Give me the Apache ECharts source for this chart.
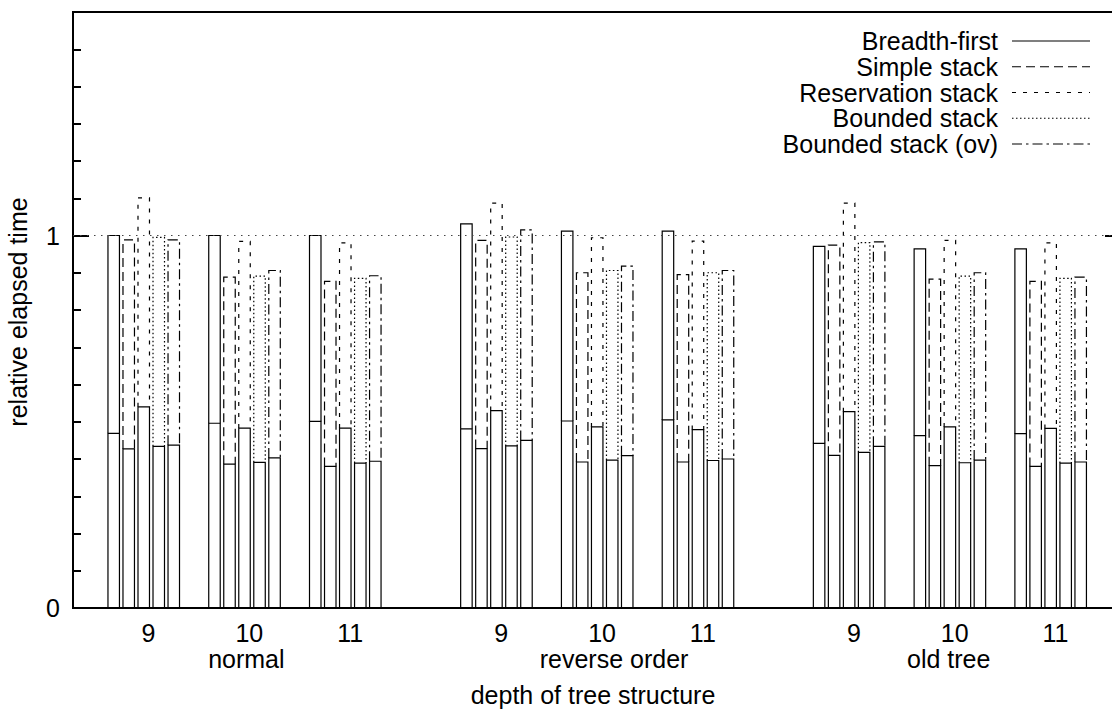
<!DOCTYPE html>
<html><head><meta charset="utf-8">
<script src="https://cdn.jsdelivr.net/npm/echarts@6/dist/echarts.min.js"></script>
<style>html,body{margin:0;padding:0;background:#fff}#c{width:1112px;height:710px}</style>
</head><body><div id="c"></div>
<script>
// ---- data ----
const seriesNames = ['Breadth-first', 'Simple stack', 'Reservation stack', 'Bounded stack', 'Bounded stack (ov)'];
const depths = ['9', '10', '11', '9', '10', '11', '9', '10', '11'];
const groups = ['normal', 'reverse order', 'old tree'];
const yTickLabels = ['0', '1'];
const refLevel = 1;

const bfLower      = [0.469, 0.496, 0.501, 0.481, 0.502, 0.505, 0.442, 0.463, 0.468];
const bfTotal      = [1.000, 1.000, 1.000, 1.031, 1.012, 1.012, 0.971, 0.964, 0.964];
const simpleLower  = [0.427, 0.386, 0.380, 0.428, 0.392, 0.392, 0.410, 0.382, 0.380];
const simpleTotal  = [0.988, 0.888, 0.877, 0.987, 0.900, 0.895, 0.974, 0.883, 0.877];
const reserveLower = [0.540, 0.483, 0.483, 0.530, 0.486, 0.479, 0.527, 0.486, 0.482];
const reserveTotal = [1.101, 0.984, 0.980, 1.087, 0.994, 0.985, 1.087, 0.987, 0.980];
const boundLower   = [0.434, 0.391, 0.389, 0.435, 0.397, 0.396, 0.418, 0.390, 0.389];
const boundTotal   = [0.995, 0.891, 0.885, 0.996, 0.906, 0.900, 0.981, 0.891, 0.885];
const ovLower      = [0.437, 0.403, 0.394, 0.450, 0.409, 0.400, 0.434, 0.397, 0.392];
const ovTotal      = [0.988, 0.906, 0.892, 1.015, 0.918, 0.906, 0.983, 0.900, 0.888];

const lowers = [bfLower, simpleLower, reserveLower, boundLower, ovLower];
const totals = [bfTotal, simpleTotal, reserveTotal, boundTotal, ovTotal];

// ---- styling / layout ----
const FONT = "'Liberation Sans', Arial, Helvetica, sans-serif";
const FS = 25;
const LEGEND_FS = 25;
const dashes = [null, [9, 5], [4, 7], [1.5, 2.5], [10, 4, 2.5, 4]];
const BAR_OFFSET = -0.403, BAR_PITCH = 0.149, BAR_WIDTH = 0.114;
const LW = 1.2;
const groupLabelShift = [-3, 12, -6];

function catPos(i) { return Math.floor(i / 3) * 3.5 + (i % 3); }

function renderBar(params, api) {
  const s = api.value(3);
  const x0 = api.value(0);
  const u = api.size([1, 0])[0];
  const base = api.coord([x0, 0]);
  const lo = api.coord([x0, api.value(1)]);
  const hi = api.coord([x0, api.value(2)]);
  const left = base[0] + u * (BAR_OFFSET + BAR_PITCH * s);
  const w = u * BAR_WIDTH;
  const upperStyle = { fill: 'none', stroke: '#000', lineWidth: LW };
  if (dashes[s]) upperStyle.lineDash = dashes[s];
  return {
    type: 'group',
    children: [
      { type: 'rect', shape: { x: left, y: lo[1], width: w, height: base[1] - lo[1] },
        style: { fill: 'none', stroke: '#000', lineWidth: LW } },
      { type: 'polyline', shape: { points: [[left, lo[1]], [left, hi[1]], [left + w, hi[1]], [left + w, lo[1]]] },
        style: upperStyle }
    ]
  };
}

const barSeries = seriesNames.map((name, s) => {
  const ser = {
    type: 'custom', name: name, xAxisIndex: 0, yAxisIndex: 0,
    renderItem: renderBar, silent: true, animation: false,
    data: depths.map((d, i) => [catPos(i), lowers[s][i], totals[s][i], s])
  };
  if (s === 0) {
    ser.markLine = {
      silent: true, symbol: ['none', 'none'], animation: false,
      label: { show: false },
      lineStyle: { color: '#444', width: 1.2, type: [1.5, 5.5] },
      data: [{ yAxis: refLevel }]
    };
  }
  return ser;
});

const labelSeries = {
  type: 'custom', xAxisIndex: 0, yAxisIndex: 0, silent: true, animation: false, clip: false,
  data: depths.map((d, i) => [catPos(i), i]),
  renderItem: function (params, api) {
    const i = api.value(1);
    const p = api.coord([api.value(0), 0]);
    const children = [{
      type: 'text', x: p[0], y: p[1] + 25,
      style: { text: depths[i], align: 'center', verticalAlign: 'middle', fontSize: FS, fontFamily: FONT, fill: '#000' }
    }];
    if (i % 3 === 1) {
      const g = Math.floor(i / 3);
      children.push({
        type: 'text', x: p[0] + groupLabelShift[g], y: p[1] + 50.5,
        style: { text: groups[g], align: 'center', verticalAlign: 'middle', fontSize: FS, fontFamily: FONT, fill: '#000' }
      });
    }
    return { type: 'group', children: children };
  }
};

// legend built as graphic elements (text + line sample)
const legendEls = [];
seriesNames.forEach((name, s) => {
  const y = 41 + 25.75 * s;
  legendEls.push({ type: 'text', x: 998, y: y,
    style: { text: name, align: 'right', verticalAlign: 'middle', fontSize: LEGEND_FS, fontFamily: FONT, fill: '#000' } });
  const st = { stroke: '#000', lineWidth: LW };
  if (dashes[s]) st.lineDash = dashes[s];
  legendEls.push({ type: 'line', shape: { x1: 1012, y1: y, x2: 1090, y2: y }, style: st });
});

function yAx(interval, position, tickLen, withLabels) {
  return {
    type: 'value', min: 0, max: 1.6, interval: interval, position: position,
    axisLine: { show: false, onZero: false },
    axisTick: { show: true, inside: true, length: tickLen, lineStyle: { color: '#000', width: 2 } },
    axisLabel: withLabels ? {
      show: true, margin: 13, color: '#000', fontSize: FS, fontFamily: FONT,
      formatter: function (v) {
        if (Math.abs(v - 0) < 1e-6) return yTickLabels[0];
        if (Math.abs(v - 1) < 1e-6) return yTickLabels[1];
        return '';
      }
    } : { show: false },
    splitLine: { show: false }
  };
}

const chart = echarts.init(document.getElementById('c'), null, { renderer: 'svg', width: 1112, height: 710 });
chart.setOption({
  animation: false,
  backgroundColor: '#fff',
  grid: { left: 73, right: -9, top: 12, bottom: 102, show: true, borderColor: '#000', borderWidth: 2,
          containLabel: false, outerBoundsMode: 'none' },
  xAxis: [{
    type: 'value', min: -0.75, max: 9.65,
    axisLine: { show: false, onZero: false }, axisTick: { show: false }, axisLabel: { show: false }, splitLine: { show: false }
  }],
  yAxis: [yAx(0.1, 'left', 8, true), yAx(1, 'left', 16, false), yAx(1, 'right', 16, false)],
  graphic: [
    { type: 'group', children: legendEls },
    { type: 'text', x: 593, y: 695,
      style: { text: 'depth of tree structure', align: 'center', verticalAlign: 'middle', fontSize: FS, fontFamily: FONT, fill: '#000' } },
    { type: 'text', x: 18, y: 312, rotation: Math.PI / 2,
      style: { text: 'relative elapsed time', align: 'center', verticalAlign: 'middle', fontSize: FS, fontFamily: FONT, fill: '#000' } }
  ],
  series: barSeries.concat([labelSeries])
});
</script>
</body></html>
